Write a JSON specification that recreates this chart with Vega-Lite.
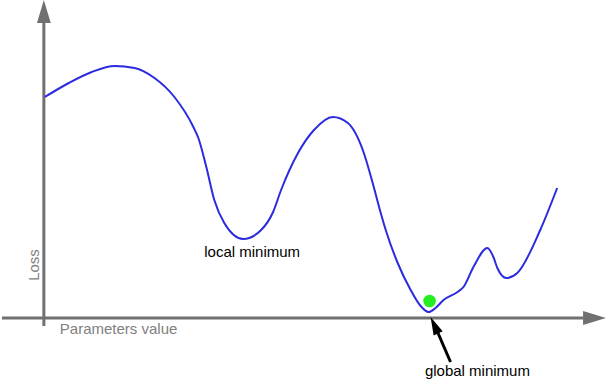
{
  "$schema": "https://vega.github.io/schema/vega-lite/v6.json",
  "width": 606,
  "height": 380,
  "padding": 0,
  "autosize": {"type": "fit", "contains": "padding"},
  "config": {"view": {"stroke": null}, "axis": {"disable": true}},
  "datasets": {
    "curve": [
      {"param": 1, "loss": 221}, {"param": 25, "loss": 235}, {"param": 48, "loss": 246}, {"param": 71, "loss": 252},
      {"param": 91, "loss": 250}, {"param": 111, "loss": 240}, {"param": 131, "loss": 221}, {"param": 150, "loss": 191},
      {"param": 155, "loss": 180}, {"param": 163, "loss": 151}, {"param": 171, "loss": 118}, {"param": 181, "loss": 95},
      {"param": 200, "loss": 79}, {"param": 218, "loss": 88}, {"param": 230, "loss": 106}, {"param": 238, "loss": 128},
      {"param": 255, "loss": 165}, {"param": 271, "loss": 188}, {"param": 290, "loss": 201}, {"param": 305, "loss": 195},
      {"param": 320, "loss": 168}, {"param": 331, "loss": 131}, {"param": 338, "loss": 105}, {"param": 343, "loss": 88},
      {"param": 355, "loss": 55}, {"param": 368, "loss": 28}, {"param": 378, "loss": 12}, {"param": 386, "loss": 6},
      {"param": 393, "loss": 10}, {"param": 401, "loss": 18}, {"param": 415, "loss": 26}, {"param": 421, "loss": 31},
      {"param": 431, "loss": 51}, {"param": 445, "loss": 70}, {"param": 451, "loss": 61}, {"param": 455, "loss": 50},
      {"param": 464, "loss": 40}, {"param": 475, "loss": 45}, {"param": 498, "loss": 88}, {"param": 515, "loss": 130}
    ],
    "axes": [
      {"name": "loss axis", "param": 0, "loss": -8, "param2": 0, "loss2": 295},
      {"name": "param axis", "param": -42, "loss": 0, "param2": 541, "loss2": 0}
    ]
  },
  "encoding": {
    "x": {"field": "param", "type": "quantitative", "scale": {"domain": [-42, 564], "nice": false, "zero": false}, "axis": null},
    "y": {"field": "loss", "type": "quantitative", "scale": {"domain": [-62, 318], "nice": false, "zero": false}, "axis": null}
  },
  "layer": [
    {
      "data": {"name": "axes"},
      "mark": {"type": "rule", "color": "#707070", "strokeWidth": 3},
      "encoding": {"x2": {"field": "param2"}, "y2": {"field": "loss2"}}
    },
    {
      "data": {"values": [{"param": 0, "loss": 306.5}]},
      "mark": {"type": "point", "shape": "M0,-1L0.6,1L-0.6,1Z", "filled": true, "color": "#707070", "opacity": 1, "size": 529}
    },
    {
      "data": {"values": [{"param": 552.5, "loss": 0}]},
      "mark": {"type": "point", "shape": "M1,0L-1,-0.6L-1,0.6Z", "filled": true, "color": "#707070", "opacity": 1, "size": 529}
    },
    {
      "data": {"name": "curve"},
      "mark": {"type": "line", "color": "#2b2be0", "strokeWidth": 2, "interpolate": "monotone"}
    },
    {
      "data": {"values": [{"param": 387, "loss": 17}]},
      "mark": {"type": "point", "shape": "circle", "filled": true, "color": "#22ee22", "opacity": 1, "size": 160}
    },
    {
      "data": {"values": [{"param": 395, "loss": -14, "param2": 408, "loss2": -44}]},
      "mark": {"type": "rule", "color": "#000000", "strokeWidth": 3},
      "encoding": {"x2": {"field": "param2"}, "y2": {"field": "loss2"}}
    },
    {
      "data": {"values": [{"param": 391.8, "loss": -7.2}]},
      "mark": {"type": "point", "shape": "M0,-1L0.55,1L-0.55,1Z", "filled": true, "color": "#000000", "opacity": 1, "size": 324, "angle": 335}
    },
    {
      "data": {"values": [
        {"param": 209, "loss": 66, "label": "local minimum"},
        {"param": 435, "loss": -53, "label": "global minimum"}
      ]},
      "mark": {"type": "text", "font": "Liberation Sans", "fontSize": 15, "color": "#000000", "align": "center", "baseline": "middle"},
      "encoding": {"text": {"field": "label"}}
    },
    {
      "data": {"values": [{"param": 16, "loss": -11, "label": "Parameters value"}]},
      "mark": {"type": "text", "font": "Liberation Sans", "fontSize": 15, "color": "#808080", "align": "left", "baseline": "middle"},
      "encoding": {"text": {"field": "label"}}
    },
    {
      "data": {"values": [{"param": -10, "loss": 53, "label": "Loss"}]},
      "mark": {"type": "text", "font": "Liberation Sans", "fontSize": 15, "color": "#808080", "align": "center", "baseline": "middle", "angle": 270},
      "encoding": {"text": {"field": "label"}}
    }
  ]
}
